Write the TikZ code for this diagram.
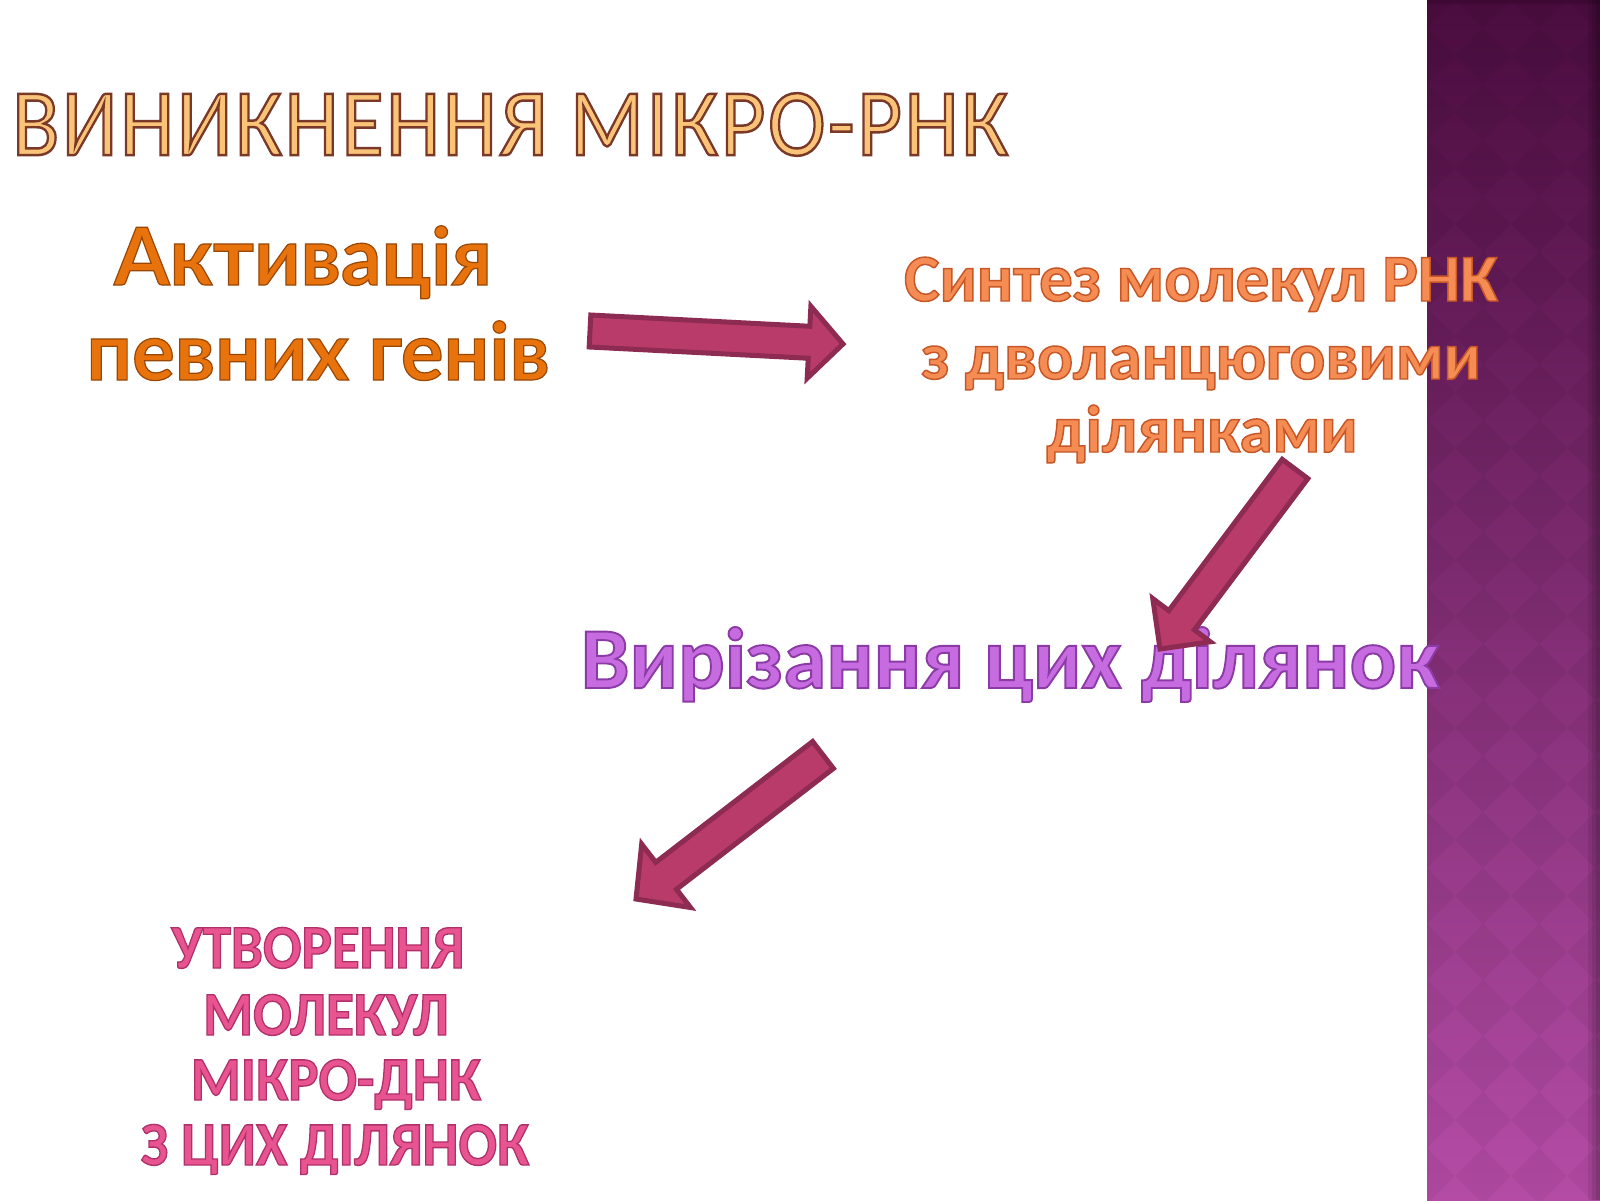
\documentclass[tikz,border=0pt]{standalone}
\usepackage{fontspec}
\usetikzlibrary{calc}
\setmainfont{Carlito}
\newfontfamily\ttlfont{Carlito}[FakeBold=2.6, LetterSpace=3]
\newfontfamily\actfont{Lato Bold}[FakeBold=1.5]
\newfontfamily\calB{Carlito Bold}[FakeBold=2.2]
\definecolor{bandA}{HTML}{4A0C3E}
\definecolor{bandB}{HTML}{7E2D78}
\definecolor{bandC}{HTML}{B44CA6}
\definecolor{arrfill}{HTML}{B93B6A}
\definecolor{arrline}{HTML}{8E2B52}
% fill colour and stroke colour of outlined text
\newcommand\fx[3]{{\special{pdf:bcolor [#1] [#2]}#3\special{pdf:ecolor}}}
\newcommand\blockarrow[5]{%
  \coordinate (#1-h) at ($(#2)!#5!(#1)$);
  \draw[barrow] ($(#1)!#3!90:(#2)$) -- ($(#1-h)!#3!90:(#2)$) -- ($(#1-h)!#4!90:(#2)$)
    -- (#2) -- ($(#1-h)!#4!-90:(#2)$) -- ($(#1-h)!#3!-90:(#2)$) -- ($(#1)!#3!-90:(#2)$) -- cycle;}
\tikzset{
  barrow/.style={fill=arrfill, draw=arrline, line width=5pt, line join=miter},
  txt/.style={inner sep=0pt, anchor=base},
  diam/.style={fill=black, opacity=0.045},
}
\begin{document}
\begin{tikzpicture}[x=1pt,y=-1pt]
\useasboundingbox (0,0) rectangle (1600,1200);
\fill[white] (0,0) rectangle (1600,1200);
% right band
\shade[top color=bandA, middle color=bandB, bottom color=bandC] (1427,0) rectangle (1600,1200);
\begin{scope}
  \clip (1427,0) rectangle (1600,1200);
  \foreach \p in {0,...,4}{
    \foreach \q in {0,...,22}{
      \fill[diam] ({1399+56*\p},{56*\q}) -- ++(28,28) -- ++(28,-28) -- ++(-28,-28) -- cycle;
    }
  }
  \fill[black,opacity=0.08] (1588,0) rectangle (1600,1200);
  \fill[black,opacity=0.08] (1592,0) rectangle (1600,1200);
  \fill[black,opacity=0.10] (1596,0) rectangle (1600,1200);
  \fill[black,opacity=0.12] (1427,0) rectangle (1600,4);
\end{scope}

% title
\node[inner sep=0pt, anchor=south west] (title) at (12,156)
  {\resizebox{996pt}{62pt}{\ttlfont\fontsize{60}{70}\selectfont\fx{0.98 0.77 0.47}{0.48 0.22 0.16}{ВИНИКНЕННЯ МІКРО-РНК}}};

% Активація певних генів
\node[txt, font=\actfont\fontsize{80}{90}\selectfont] (act1) at (303,285)
  {\fx{0.91 0.45 0.05}{0.60 0.28 0.02}{Активація}};
\node[txt, font=\actfont\fontsize{80}{90}\selectfont] (act2) at (318,380)
  {\fx{0.91 0.45 0.05}{0.60 0.28 0.02}{певних генів}};

% Синтез молекул РНК з дволанцюговими ділянками
\node[txt, font=\calB\fontsize{67}{76}\selectfont] (syn1) at (1201,301)
  {\fx{0.96 0.55 0.33}{0.78 0.34 0.15}{Синтез молекул РНК}};
\node[txt, font=\calB\fontsize{67}{76}\selectfont] (syn2) at (1201,379)
  {\fx{0.96 0.55 0.33}{0.78 0.34 0.15}{з дволанцюговими}};
\node[txt, font=\calB\fontsize{67}{76}\selectfont] (syn3) at (1202,452)
  {\fx{0.96 0.55 0.33}{0.78 0.34 0.15}{ділянками}};

% Вирізання цих ділянок
\node[txt, font=\calB\fontsize{87}{96}\selectfont] (cut) at (1010,688)
  {\fx{0.78 0.42 0.88}{0.55 0.23 0.65}{Вирізання цих ділянок}};

% Утворення молекул мікро-ДНК з цих ділянок
\node[txt, font=\calB\fontsize{62}{70}\selectfont] (form1) at (318,968)
  {\scalebox{0.92}[1]{\fx{0.91 0.33 0.56}{0.69 0.19 0.42}{УТВОРЕННЯ}}};
\node[txt, font=\calB\fontsize{62}{70}\selectfont] (form2) at (326,1035)
  {\scalebox{0.92}[1]{\fx{0.91 0.33 0.56}{0.69 0.19 0.42}{МОЛЕКУЛ}}};
\node[txt, font=\calB\fontsize{62}{70}\selectfont] (form3) at (336,1100)
  {\scalebox{0.92}[1]{\fx{0.91 0.33 0.56}{0.69 0.19 0.42}{МІКРО-ДНК}}};
\node[txt, font=\calB\fontsize{62}{70}\selectfont] (form4) at (335,1165)
  {\scalebox{0.92}[1]{\fx{0.91 0.33 0.56}{0.69 0.19 0.42}{З ЦИХ ДІЛЯНОК}}};

% block arrows
\coordinate (a1s) at (590,331);
\coordinate (a1e) at (843,344);
\blockarrow{a1s}{a1e}{16pt}{36pt}{34pt}
\coordinate (a2s) at (1295,469);
\coordinate (a2e) at (1160,649);
\blockarrow{a2s}{a2e}{16pt}{36pt}{36pt}
\coordinate (a3s) at (823,755);
\coordinate (a3e) at (636,899);
\blockarrow{a3s}{a3e}{17pt}{40pt}{38pt}
\end{tikzpicture}
\end{document}
